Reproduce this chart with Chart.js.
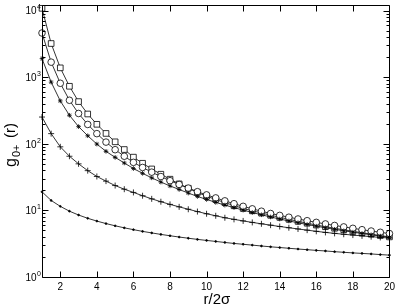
<!DOCTYPE html>
<html>
<head>
<meta charset="utf-8">
<script src="https://cdn.jsdelivr.net/npm/chart.js@4"></script>
<style>
  html, body { margin: 0; padding: 0; background: #fff; }
  #c { display: block; }
</style>
</head>
<body>
<canvas id="c" width="399" height="307"></canvas>
<script>
// r / 2sigma positions
var rValues = [1, 1.5, 2, 2.5, 3, 3.5, 4, 4.5, 5, 5.5, 6, 6.5, 7, 7.5, 8, 8.5, 9, 9.5, 10,
  10.5, 11, 11.5, 12, 12.5, 13, 13.5, 14, 14.5, 15, 15.5, 16, 16.5, 17, 17.5, 18, 18.5, 19, 19.5, 20];

// g_0+(r) curves
var squares = [10800, 3200, 1380, 730, 430, 280, 196, 143, 107, 82, 63,
  51.0, 41.9, 34.9, 29.4, 25.0, 21.5, 18.6, 16.3,
  14.6, 13.1, 11.8, 10.7,
  9.87, 9.13, 8.46, 7.87, 7.35, 6.85, 6.42, 6.02,
  5.69, 5.39, 5.11, 4.85, 4.62, 4.40, 4.19, 4.0];
var circles = [4600, 1680, 810, 450, 285, 195, 142, 106, 81.5, 65, 52.6,
  44.1, 37.5, 32.2, 27.9, 24.5, 21.6, 19.1, 17.1,
  15.4, 13.9, 12.6, 11.5,
  10.55, 9.72, 8.98, 8.41, 7.90, 7.43, 7.0, 6.61,
  6.26, 5.94, 5.65, 5.38, 5.13, 4.90, 4.69, 4.49];
var stars = [1900, 842, 440, 268, 181, 132, 99, 77, 62.5, 51.5, 42.5,
  36, 30.8, 26.6, 23.3, 20.6, 18.2, 16.2, 14.6,
  13.2, 12.0, 11.0, 10.1,
  9.29, 8.59, 7.97, 7.41, 6.94, 6.52, 6.13, 5.79,
  5.48, 5.2, 4.94, 4.71, 4.5, 4.3, 4.11, 3.93];
var pluses = [252, 142, 90, 65, 50, 39.5, 32.3, 27.5, 23.6, 20.8, 18.6,
  16.6, 14.9, 13.5, 12.3, 11.3, 10.4, 9.6, 8.9,
  8.3, 7.75, 7.33, 6.95,
  6.6, 6.29, 6.0, 5.73, 5.49, 5.26, 5.05, 4.85,
  4.67, 4.52, 4.38, 4.26, 4.14, 4.03, 3.93, 3.84];
var dots = [19.0, 14.1, 11.5, 9.73, 8.52, 7.61, 6.91, 6.34, 5.87, 5.47, 5.14,
  4.84, 4.59, 4.36, 4.16, 3.98, 3.82, 3.67, 3.54,
  3.42, 3.30, 3.19, 3.10,
  3.01, 2.92, 2.84, 2.77, 2.70, 2.63, 2.57, 2.51,
  2.46, 2.40, 2.35, 2.30, 2.26, 2.22, 2.17, 2.13];

var xTicks = [2, 4, 6, 8, 10, 12, 14, 16, 18, 20];
var yDecades = [0, 1, 2, 3, 4];

function pts(vals) {
  return vals.map(function(v, i) { return { x: rValues[i], y: v }; });
}

function series(vals, style, radius, fill) {
  return {
    data: pts(vals),
    borderColor: '#000',
    borderWidth: 0.8,
    pointStyle: style,
    pointRadius: radius,
    pointBorderColor: '#000',
    pointBorderWidth: 0.8,
    pointBackgroundColor: fill,
    tension: 0,
    clip: 6
  };
}

// frame, inward ticks, tick labels and axis titles
var frame = {
  id: 'frame',
  afterDraw: function(chart) {
    var ctx = chart.ctx, a = chart.chartArea, x = chart.scales.x, y = chart.scales.y;
    var L = Math.round(a.left) + 0.5, R = Math.round(a.right) + 0.5,
        T = Math.round(a.top) + 0.5, B = Math.round(a.bottom) + 0.5;
    ctx.save();
    ctx.strokeStyle = '#000';
    ctx.lineWidth = 1;
    ctx.beginPath();
    ctx.rect(L, T, R - L, B - T);
    // y ticks, major and minor
    yDecades.forEach(function(e) {
      for (var m = 1; m <= 9; m++) {
        var v = m * Math.pow(10, e);
        if (v > y.max) break;
        var py = Math.round(y.getPixelForValue(v)) + 0.5;
        var len = m === 1 ? 6 : 3;
        ctx.moveTo(L, py); ctx.lineTo(L + len, py);
        ctx.moveTo(R, py); ctx.lineTo(R - len, py);
      }
    });
    xTicks.forEach(function(t) {
      var px = Math.round(x.getPixelForValue(t)) + 0.5;
      ctx.moveTo(px, B); ctx.lineTo(px, B - 6);
      ctx.moveTo(px, T); ctx.lineTo(px, T + 6);
    });
    ctx.stroke();

    ctx.fillStyle = '#000';
    // y labels 10^n
    yDecades.forEach(function(e) {
      var py = y.getPixelForValue(Math.pow(10, e));
      ctx.font = '10px "Liberation Sans", Arial, sans-serif';
      ctx.textAlign = 'right';
      ctx.textBaseline = 'middle';
      ctx.fillText('10', 36.5, py + 1);
      ctx.font = '7px "Liberation Sans", Arial, sans-serif';
      ctx.textAlign = 'left';
      ctx.fillText(String(e), 37, py - 3);
    });

    // x title
    ctx.font = '15px "Liberation Sans", Arial, sans-serif';
    ctx.textAlign = 'center';
    ctx.textBaseline = 'alphabetic';
    ctx.fillText('r/2\u03c3', 217, 304);

    // y title g_0+(r)
    ctx.translate(16, 167);
    ctx.rotate(-Math.PI / 2);
    ctx.textAlign = 'left';
    ctx.font = '16px "Liberation Sans", Arial, sans-serif';
    ctx.fillText('g', 0, 0);
    ctx.font = '11px "Liberation Sans", Arial, sans-serif';
    ctx.fillText('0+', 10, 4);
    ctx.font = '15px "Liberation Sans", Arial, sans-serif';
    ctx.fillText('(r)', 29, -1);
    ctx.restore();
  }
};

var ctx = document.getElementById('c').getContext('2d');
var chart = new Chart(ctx, {
  type: 'line',
  data: {
    datasets: [
      series(dots, 'circle', 0.9, '#000'),
      series(pluses, 'cross', 3, '#000'),
      series(stars, 'star', 2.3, '#000'),
      series(circles, 'circle', 3.3, '#fff'),
      series(squares, 'rect', 4, '#fff')
    ]
  },
  options: {
    responsive: false,
    devicePixelRatio: 1,
    animation: false,
    layout: { padding: { top: 4, right: 9, left: 0, bottom: 0 } },
    plugins: { legend: { display: false }, tooltip: { enabled: false } },
    scales: {
      x: {
        type: 'linear',
        min: 1,
        max: 20,
        afterBuildTicks: function(s) { s.ticks = xTicks.map(function(v) { return { value: v }; }); },
        afterFit: function(s) { s.height = 30; },
        grid: { display: false, drawTicks: false, tickLength: 0 },
        border: { display: false },
        ticks: {
          color: '#000',
          padding: 4,
          maxRotation: 0,
          autoSkip: false,
          font: { family: '"Liberation Sans", Arial, sans-serif', size: 10 }
        }
      },
      y: {
        type: 'logarithmic',
        min: 1,
        max: 12200,
        afterFit: function(s) { s.width = 42; },
        grid: { display: false },
        border: { display: false },
        ticks: { display: false }
      }
    }
  },
  plugins: [frame]
});
</script>
</body>
</html>
